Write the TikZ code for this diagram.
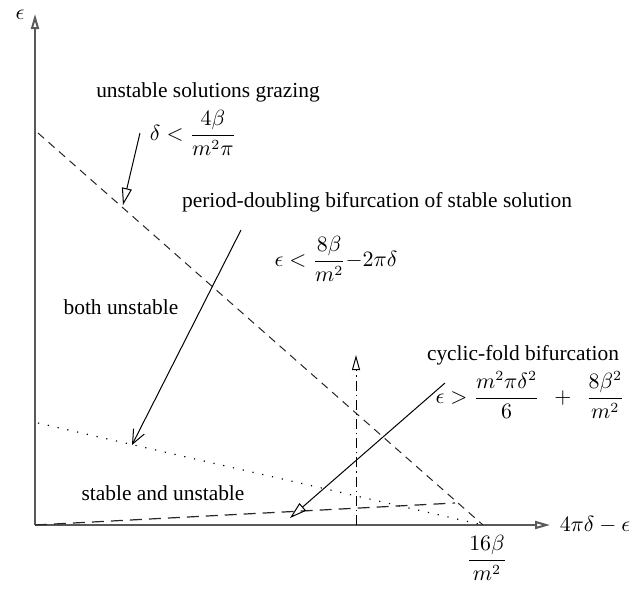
\documentclass[tikz,border=0pt]{standalone}
\usepackage{fontspec}
\setmainfont{Liberation Serif}
\usetikzlibrary{arrows.meta, positioning}
\tikzset{
  axisline/.style={draw=black!65, line width=1pt,
                   -{Triangle[open, length=7.5pt, width=4pt]}},
  bigdash/.style={draw=black!85, line width=0.5pt, dash pattern=on 4pt off 3pt},
  lowdash/.style={draw=black!85, line width=0.6pt, dash pattern=on 6pt off 3.5pt},
  dotline/.style={draw=black, line width=0.6pt, dash pattern=on 0.6pt off 4.4pt},
  dashdot/.style={draw=black, line width=0.5pt,
                  dash pattern=on 5pt off 2pt on 0.6pt off 2pt,
                  -{Triangle[open, length=7.5pt, width=4pt]}},
  openarrow/.style={draw=black, line width=0.5pt,
                    -{Triangle[open, length=8.5pt, width=5pt]}},
  barbarrow/.style={draw=black, line width=0.5pt,
                    -{Straight Barb[length=7pt, width=6pt]}},
  lbl/.style={inner sep=1pt, font=\fontsize{10.7pt}{13pt}\selectfont}
}
\begin{document}
\begin{tikzpicture}[x=0.5pt, y=-0.5pt]
  \useasboundingbox (0,0) rectangle (632,590);

  % Axes
  \coordinate (O) at (35,525);
  \coordinate (ytip) at (35,14);
  \coordinate (xtip) at (550,525);
  \draw[axisline] (O) -- (ytip);
  \draw[axisline] (O) -- (xtip);
  \node[lbl] (epslab) at (20,15) {$\epsilon$};
  \node[lbl] (xlab) at (595,525) {$4\pi\delta-\epsilon$};
  \node[lbl] (xtick) at (487,558) {$\displaystyle\frac{16\beta}{m^2}$};

  % Boundary curves
  \coordinate (gtop) at (38,133);
  \coordinate (gend) at (483,525);
  \coordinate (ptop) at (38,423);
  \coordinate (cend) at (455,503);
  \draw[bigdash] (gtop) -- (gend);
  \draw[dotline] (ptop) -- (gend);
  \draw[lowdash] (O) -- (cend);

  % Vertical dash-dot line
  \coordinate (vbot) at (356,525);
  \coordinate (vtop) at (356,355);
  \draw[dashdot] (vbot) -- (vtop);

  % Grazing
  \node[lbl] (graze) at (208,92) {unstable solutions grazing};
  \node[lbl] (grazeineq) at (193,133) {$\displaystyle\delta<\frac{4\beta}{m^2\pi}$};
  \coordinate (ga) at (140,133);
  \coordinate (gb) at (123,205);
  \draw[openarrow] (ga) -- (gb);

  % Period-doubling
  \node[lbl] (perdbl) at (377,202) {period-doubling bifurcation of stable solution};
  \node[lbl] (perdblineq) at (336,259) {$\displaystyle\epsilon<\frac{8\beta}{m^2}{-}2\pi\delta$};
  \coordinate (pa) at (241,230);
  \coordinate (pb) at (132,445);
  \draw[barbarrow] (pa) -- (pb);

  % Cyclic-fold
  \node[lbl] (cycfold) at (523,355) {cyclic-fold bifurcation};
  \node[lbl] (cycfoldineq) at (530,395)
    {$\displaystyle\epsilon>\frac{m^2\pi\delta^2}{6}\hspace{5pt}+\hspace{5pt}\frac{8\beta^2}{m^2}$};
  \coordinate (ca) at (445,383);
  \coordinate (cb) at (290,518);
  \draw[openarrow] (ca) -- (cb);

  % Regions
  \node[lbl] (bothunst) at (121,307) {both unstable};
  \node[lbl] (stabunst) at (163,493) {stable and unstable};
\end{tikzpicture}
\end{document}
